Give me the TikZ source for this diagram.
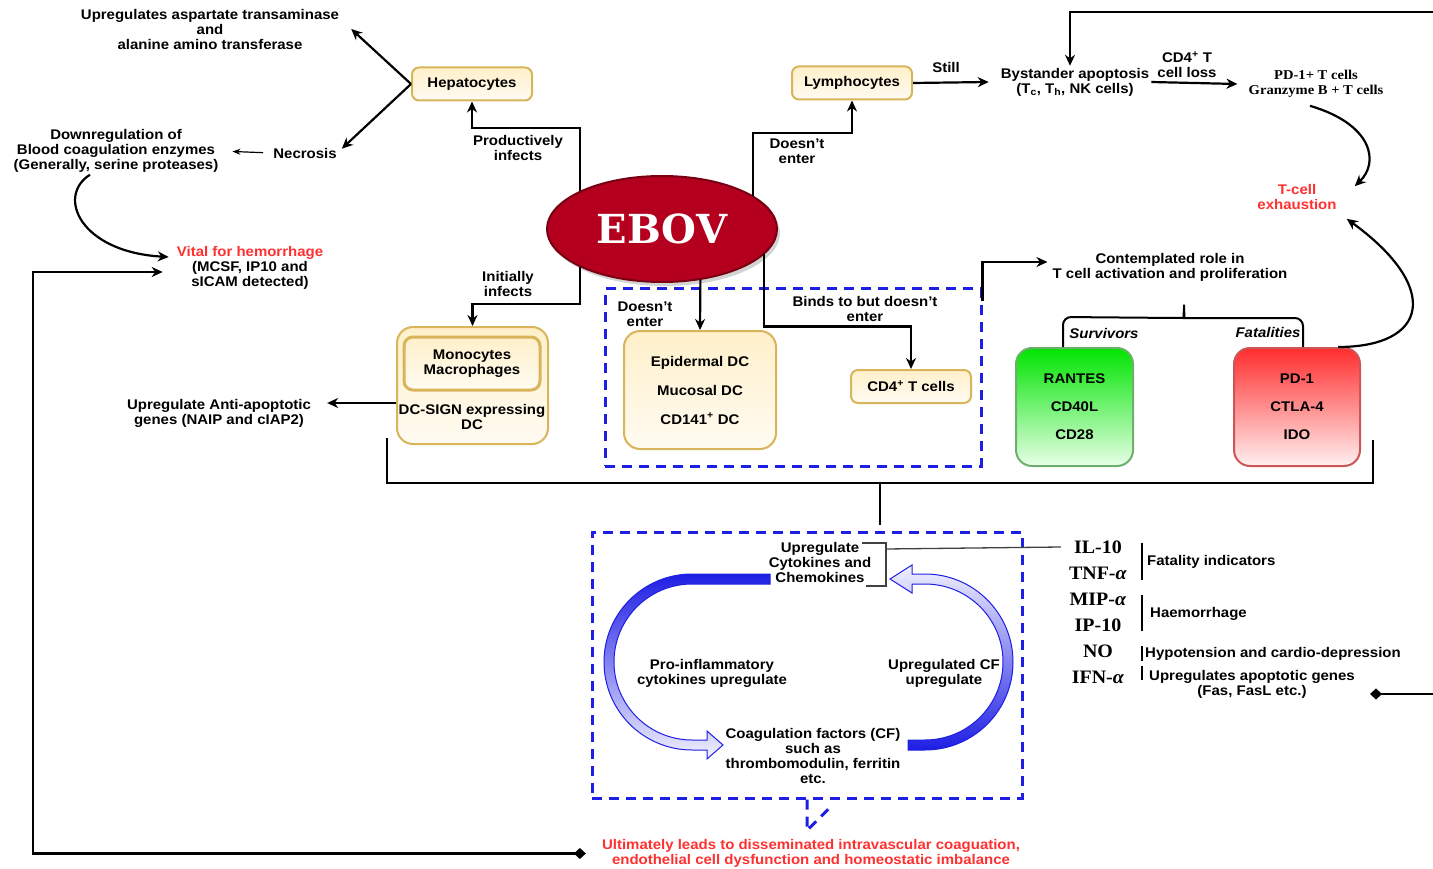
\documentclass[tikz,border=0pt]{standalone}
\usepackage{fontspec}
\setmainfont{Liberation Sans}[FakeStretch=1.07]
\newfontfamily\timesbf{Liberation Serif}[FakeStretch=1.08]
\newfontfamily\cytofont{Liberation Serif}[FakeStretch=1.05]
\newfontfamily\slabbf{DejaVu Serif}
\usepackage{xcolor}
\usetikzlibrary{arrows.meta}
\usetikzlibrary{shapes.geometric}
\usetikzlibrary{shadows}

\definecolor{dashblue}{RGB}{30,30,228}
\definecolor{goldline}{RGB}{216,180,90}
\definecolor{creamtop}{RGB}{255,240,202}
\definecolor{creambot}{RGB}{255,251,242}
\definecolor{ebovred}{RGB}{180,0,30}
\definecolor{ebovline}{RGB}{120,0,18}
\definecolor{alertred}{RGB}{255,48,48}
\definecolor{greentop}{RGB}{0,228,0}
\definecolor{greenbot}{RGB}{232,255,232}
\definecolor{greenline}{RGB}{110,175,110}
\definecolor{redtop}{RGB}{255,45,45}
\definecolor{redbot}{RGB}{255,240,240}
\definecolor{redline}{RGB}{205,85,85}

\begin{document}
\begin{tikzpicture}[x=1pt,y=-1pt,>={Stealth[length=11pt,width=10pt]},
  lbl/.style={font=\bfseries\fontsize{14}{15}\selectfont,align=center,inner sep=2pt},
  redlbl/.style={lbl,text=alertred},
  con/.style={->,line width=2.2pt},
  thincon/.style={line width=1.2pt,-{Stealth[length=8pt,width=6pt]}},
  cell/.style={lbl,draw=goldline,line width=2pt,rounded corners=7pt,top color=creamtop,bottom color=creambot,minimum width=120pt,minimum height=33pt},
  bigcell/.style={cell,rounded corners=16pt},
  dashbox/.style={draw=dashblue,line width=3pt,dash pattern=on 10pt off 7pt},
  cyto/.style={font=\cytofont\bfseries\fontsize{19}{19}\selectfont,inner sep=1pt},
  band/.style={draw=dashblue,line width=1pt},
  bar/.style={line width=2pt}
]
\useasboundingbox (0,0) rectangle (1433,869);

% liver branch
\node[lbl] (ast) at (210,29) {Upregulates aspartate transaminase\\and\\alanine amino transferase};
\node[cell] (hep) at (472,84) {Hepatocytes};
\node[lbl] (nec) at (305,153) {Necrosis};
\node[lbl] (down) at (116,151) {Downregulation of\\Blood coagulation enzymes\\(Generally, serine proteases)};
\node[lbl] (vital) at (250,268) {\textcolor{alertred}{Vital for hemorrhage}\\(MCSF, IP10 and\\sICAM detected)};
\node[lbl] at (518,148) {Productively\\infects};

\draw[con] (hep.west) -- ([xshift=10pt]ast.east);
\draw[con] (hep.west) -- ([xshift=3pt,yshift=-3pt]nec.north east);
\draw[thincon,shorten <=8pt,shorten >=12pt] (nec.west) -- (down.east);
\draw[con] ([xshift=-26pt]down.south) .. controls (56,196) and (80,252) .. ([yshift=11pt,xshift=-6pt]vital.west);

% virus
\node[ellipse,draw=ebovline,line width=2pt,fill=ebovred,minimum width=230pt,minimum height=106pt,inner sep=0pt,
  drop shadow={opacity=0.35,shadow xshift=3pt,shadow yshift=-4pt},text=white,
  font=\slabbf\bfseries\fontsize{40}{40}\selectfont] (ebov) at (662,229) {EBOV};

\draw[con] (ebov.155) -- ++(0,-63) -| (hep.south);

% lymphocyte branch
\node[cell] (lym) at (852,83) {Lymphocytes};
\node[lbl] at (797,151) {Doesn't\\enter};
\node[lbl] (bys) at (1075,82) {Bystander apoptosis\\(T\textsubscript{c}, T\textsubscript{h}, NK cells)};
\node[lbl] at (946,67) {Still};
\node[lbl] at (1187,65) {CD4\textsuperscript{+} T\\cell loss};
\node[font=\timesbf\bfseries\fontsize{13.5}{15}\selectfont,align=center,inner sep=2pt] (pd) at (1316,84) {PD-1+ T cells\\Granzyme B + T cells};
\node[redlbl] (exh) at (1297,197) {T-cell\\exhaustion};
\coordinate (tin) at (1433,12);

\draw[con] (ebov.20) -- ++(0,-63) -| (lym.south);
\draw[con] (lym.east) -- ([xshift=-10pt]bys.west);
\draw[con] (bys.east) -- ([xshift=-9pt]pd.west);
\draw[con] (tin) -| ([xshift=-5pt]bys.north);
\draw[con] ([xshift=-6pt,yshift=-6pt]pd.south) .. controls (1372,124) and (1380,162) .. ([xshift=16pt,yshift=-4pt]exh.north east);

% dendritic cells
\node[bigcell,minimum width=151pt,minimum height=117pt] (mono) at (472.5,385.5) {};
\node[cell,line width=3pt,rounded corners=9pt,minimum width=136pt,minimum height=53pt] (mac) at (472,363.5) {Monocytes\\Macrophages};
\node[lbl] at (472,417) {DC-SIGN expressing\\DC};
\node[lbl] (anti) at (219,413) {Upregulate Anti-apoptotic\\genes (NAIP and cIAP2)};
\node[lbl] at (508,284) {Initially\\infects};

\draw[con] (ebov.205) -- ++(0,37) -| (mono.north);
\draw[con] ([yshift=-17.5pt]mono.west) -- ([xshift=14pt,yshift=10pt]anti.east);

\node[dashbox,minimum width=376pt,minimum height=177pt] (dc) at (793,377.5) {};
\node[bigcell,minimum width=152pt,minimum height=118pt] (epi) at (700,390) {Epidermal DC\\[14pt]Mucosal DC\\[14pt]CD141\textsuperscript{+} DC};
\node[cell] (cd4) at (911,386.5) {CD4\textsuperscript{+} T cells};
\node[lbl] at (645,314) {Doesn't\\enter};
\node[lbl] at (865,309) {Binds to but doesn't\\enter};

\draw[con] (ebov.307) -- (epi.north);
\draw[con] (ebov.346) -- ++(0,72) -| (cd4.north);

% survivors and fatalities
\node[lbl] (cont) at (1170,267) {Contemplated role in\\T cell activation and proliferation};
\node[lbl,font=\bfseries\itshape\fontsize{14}{15}\selectfont] at (1104,333) {Survivors};
\node[lbl,font=\bfseries\itshape\fontsize{14}{15}\selectfont] at (1268,332) {Fatalities};
\node[bigcell,draw=greenline,top color=greentop,bottom color=greenbot,minimum width=117pt,minimum height=118pt] (grn) at (1074.5,407) {RANTES\\[13pt]CD40L\\[13pt]CD28};
\node[bigcell,draw=redline,top color=redtop,bottom color=redbot,minimum width=126pt,minimum height=118pt] (fat) at (1297,407) {PD-1\\[13pt]CTLA-4\\[13pt]IDO};

\draw[con] ([yshift=-13pt]dc.north east) |- ([yshift=5pt,xshift=-3pt]cont.west);
\draw[line width=2pt,rounded corners=8pt] ([xshift=-11.5pt]grn.north) -- ++(0,-30) -- (1176,318)
  .. controls (1183,318) and (1184,312) .. (1184,300)
  .. controls (1184,312) and (1185,318) .. (1192,318) -- (1303,318) -- ([xshift=6pt]fat.north);
\draw[con] ([xshift=41pt]fat.north) .. controls (1428,347) and (1442,288) .. ([xshift=8pt,yshift=-7pt]exh.south east);

% collecting line
\coordinate (bl) at (387,438);
\coordinate (br) at (1373,440);
\coordinate (bus) at (880,483);
\draw[line width=2.2pt] (bl) |- (bus) -| (br);
\draw[line width=2.2pt] (bus) -- ++(0,42);

% cytokine loop
\node[dashbox,minimum width=430pt,minimum height=266pt] (cyc) at (807,665) {};
\draw[band,top color=dashblue,bottom color=dashblue!6]
  (770,574) -- (692,574) arc[start angle=90,end angle=270,radius=88pt]
  -- (707,750) -- (707,759) -- (723,745) -- (707,731) -- (707,740) -- (692,740)
  arc[start angle=270,end angle=90,radius=78pt] -- (770,584) -- cycle;
\draw[band,top color=dashblue!6,bottom color=dashblue]
  (908,750) -- (925,750) arc[start angle=270,end angle=450,radius=88pt]
  -- (912,574) -- (912,565) -- (890,579) -- (912,593) -- (912,584) -- (925,584)
  arc[start angle=90,end angle=-90,radius=78pt] -- (908,740) -- cycle;
\node[lbl] (upcy) at (820,562) {Upregulate\\Cytokines and\\Chemokines};
\node[lbl] at (712,673) {Pro-inflammatory\\cytokines upregulate};
\node[lbl] at (944,673) {Upregulated CF\\upregulate};
\node[lbl] at (813,756) {Coagulation factors (CF)\\such as\\thrombomodulin, ferritin\\etc.};
\node[redlbl] (ult) at (811,853.5) {Ultimately leads to disseminated intravascular coaguation,\\endothelial cell dysfunction and homeostatic imbalance};

\draw[dashbox] (cyc.south) -- ++(0,31) -- ++(26,-26);
\draw[line width=2.2pt,{Diamond[length=12pt,width=11pt]}->] ([xshift=-14pt]ult.west) -- ++(-553,0) |- ([yshift=-4pt,xshift=-12pt]vital.west);

% mediators
\node[cyto] (il10) at (1098,547) {IL-10};
\node[cyto] (tnf) at (1098,573) {TNF-\textit{α}};
\node[cyto] (mip) at (1098,599) {MIP-\textit{α}};
\node[cyto] (ip10) at (1098,625) {IP-10};
\node[cyto] (no) at (1098,651) {NO};
\node[cyto] (ifn) at (1098,677) {IFN-\textit{α}};
\node[lbl,anchor=west] at (1145,562) {Fatality indicators};
\node[lbl,anchor=west] at (1148,614) {Haemorrhage};
\node[lbl,anchor=west] at (1143,654) {Hypotension and cardio-depression};
\node[lbl] (upap) at (1252,684) {Upregulates apoptotic genes\\(Fas, FasL etc.)};
\draw[bar] (1142,543) -- (1142,580);
\draw[bar] (1142,595) -- (1142,631);
\draw[bar] (1142,646) -- (1142,661);
\draw[bar] (1142,666) -- (1142,680);

\draw[line width=1.3pt,draw=black!75] (862,543) -| (886,586) -- (866,586);
\draw[line width=1.3pt,draw=black!75] (886,549) -- ([xshift=-12pt]il10.west);

\coordinate (rin) at (1433,694);
\draw[line width=2.2pt,-{Diamond[length=12pt,width=11pt]}] (rin) -- ++(-63,0);
\end{tikzpicture}
\end{document}
